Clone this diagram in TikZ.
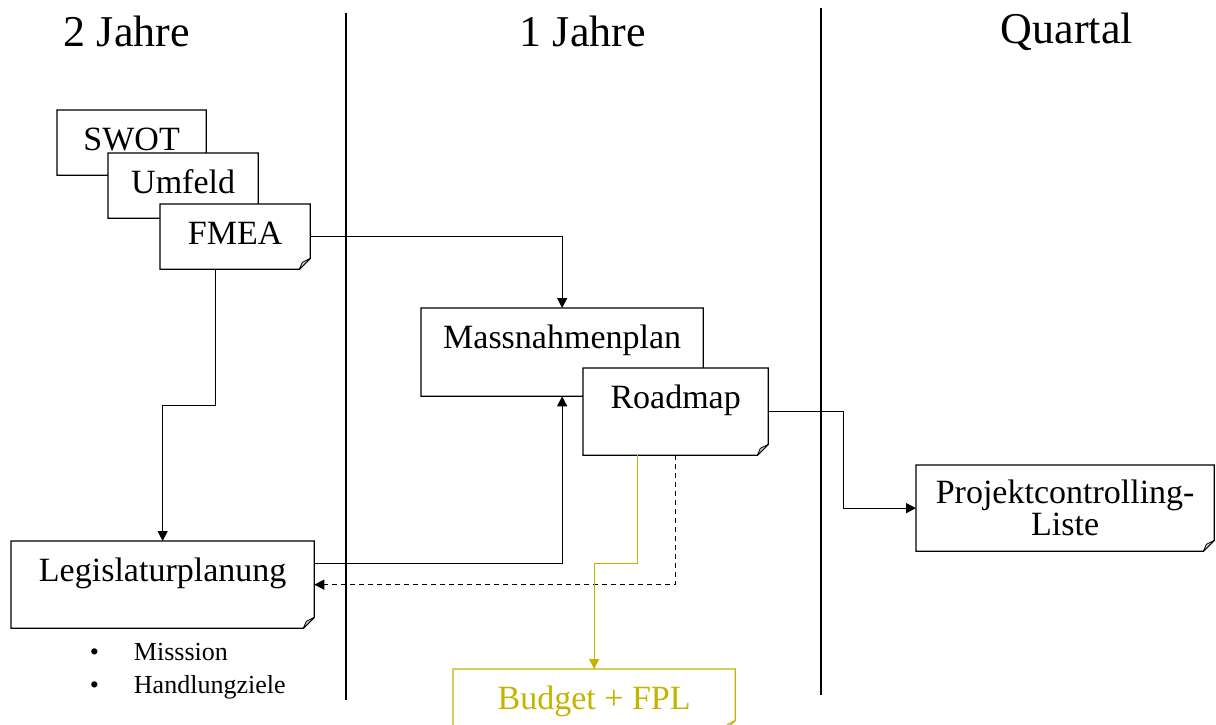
\documentclass[tikz,border=0pt]{standalone}
\usepackage{fontspec}
\setmainfont{Liberation Serif}
\usetikzlibrary{arrows.meta}

\definecolor{budgetgold}{RGB}{196,180,0}
\newcommand{\notefont}{\fontsize{34}{30}\selectfont}
\newcommand{\headfont}{\fontsize{44}{50}\selectfont}
\newcommand{\listfont}{\fontsize{26}{32}\selectfont}

\begin{document}
\begin{tikzpicture}[
        x=1pt, y=-1pt,
        line width=1.3pt,
        >={Triangle[length=10pt, width=10pt]},
        note/.style={rectangle, inner sep=0pt, anchor=north west, text height=40pt, font=\notefont,
          append after command={\pgfextra{
            \draw[draw=#1, fill=white, line join=miter]
              (\tikzlastnode.north west) -- (\tikzlastnode.north east)
              -- ([yshift=11pt]\tikzlastnode.south east) -- ([xshift=-11pt]\tikzlastnode.south east)
              -- (\tikzlastnode.south west) -- cycle;
            \draw[draw=#1, fill=gray!40, line width=0.8pt, line join=round]
              ([yshift=11pt]\tikzlastnode.south east) -- ([xshift=-11pt]\tikzlastnode.south east)
              -- ([xshift=-8pt, yshift=7pt]\tikzlastnode.south east) -- cycle;
          }}},
        note/.default=black,
        head/.style={anchor=base west, font=\headfont},
        item/.style={anchor=base west, font=\listfont}
      ]
      \useasboundingbox (0,0) rectangle (1216,725);

      % Time columns
      \node[head] (twoyears) at (60,47) {2 Jahre};
      \node[head] (oneyear) at (516,47) {1 Jahre};
      \node[head] (quarter) at (997,44) {Quartal};
      \draw (346,13) -- (346,700);
      \draw (821,8) -- (821,695);

      % Analysis stack
      \node[note, minimum width=148pt, text depth=24pt] (swot) at (57,110) {SWOT};
      \node[note, minimum width=149pt, text depth=24pt] (umfeld) at (108,153) {Umfeld};
      \node[note, minimum width=149pt, text depth=24pt] (fmea) at (160,204) {FMEA};

      % Legislature
      \node[note, minimum width=302pt, text depth=46pt] (legis) at (11,541) {Legislaturplanung};
      \node[item] (mission) at (86,660) {\makebox[44pt][l]{•}Misssion};
      \node[item] (goals) at (86,693) {\makebox[44pt][l]{•}Handlungziele};

      % One year plan
      \node[note, minimum width=281pt, text depth=47pt] (mass) at (421,308) {Massnahmenplan};
      \node[note, minimum width=184pt, text depth=46pt] (road) at (583,368) {Roadmap};
      \node[note=budgetgold, text=budgetgold, minimum width=281pt, text depth=21pt] (budget) at (453,669) {Budget + FPL};

      % Quarter
      \node[note, minimum width=297pt, minimum height=85pt, text height=, text depth=, align=center] (proj) at (916,465) {Projektcontrolling-\\[2pt]Liste};

      % Connections
      \draw[->] (fmea) -| (mass);
      \draw[->] ([xshift=-20pt]fmea.south) -- ++(0,136) -| (legis);
      \draw[->] ([yshift=21pt]legis.east) -| (mass);
      \draw[->, dashed, dash pattern=on 5pt off 4pt] (road) |- (legis);
      \draw[->, budgetgold] ([xshift=-38pt]road.south) -- ++(0,108) -| (budget);
      \draw[->] (road.east) -- ++(75,0) |- (proj);

      \end{tikzpicture}
\end{document}
